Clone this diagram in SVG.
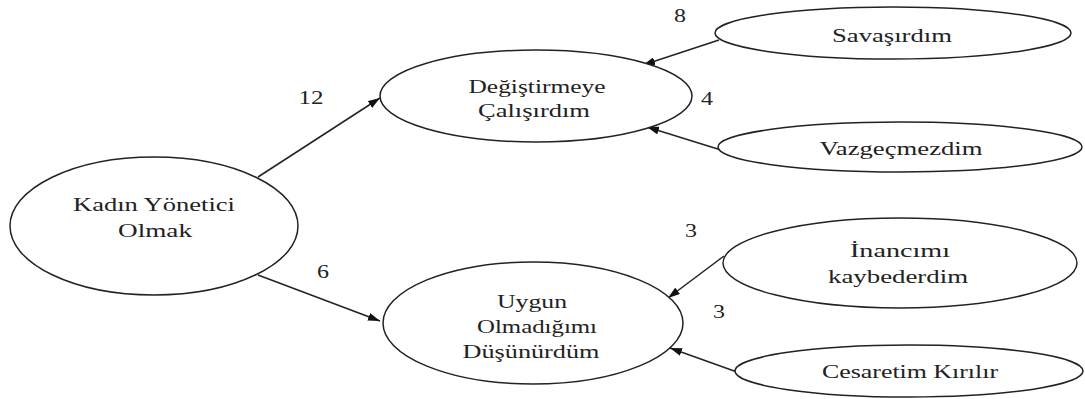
<svg xmlns="http://www.w3.org/2000/svg" width="1085" height="399" viewBox="0 0 1085 399">
<style>
.n{fill:#fff;stroke:#222;stroke-width:1.5}
.c{stroke:#222;stroke-width:1.5;fill:none;marker-end:url(#ah)}
</style>
<defs>
<marker id="ah" viewBox="0 0 12 8" refX="12" refY="4" markerWidth="12" markerHeight="8" markerUnits="userSpaceOnUse" orient="auto">
<path d="M0,0 L12,4 L0,8 Z" fill="#111"/>
</marker>
</defs>
<rect width="1085" height="399" fill="#fff"/>
<g id="connectors">
<line class="c" x1="258" y1="177" x2="380" y2="98"/>
<line class="c" x1="258" y1="275" x2="380" y2="321"/>
<line class="c" x1="719" y1="40" x2="643" y2="65"/>
<line class="c" x1="721" y1="150" x2="647" y2="127"/>
<line class="c" x1="724" y1="256" x2="668" y2="298"/>
<line class="c" x1="737" y1="372" x2="670" y2="348"/>
</g>
<g font-family="Liberation Serif, DejaVu Serif, serif" fill="#222" text-anchor="middle">
<g id="labels" font-size="18">
<text x="311" y="104" textLength="25" lengthAdjust="spacingAndGlyphs">12</text>
<text x="323" y="278" textLength="12" lengthAdjust="spacingAndGlyphs">6</text>
<text x="680" y="22" textLength="12" lengthAdjust="spacingAndGlyphs">8</text>
<text x="707" y="105" textLength="12" lengthAdjust="spacingAndGlyphs">4</text>
<text x="691" y="237" textLength="12" lengthAdjust="spacingAndGlyphs">3</text>
<text x="719" y="318" textLength="12" lengthAdjust="spacingAndGlyphs">3</text>
</g>
<g font-size="18">
<g id="kadin">
<ellipse class="n" cx="154" cy="226" rx="144" ry="69"/>
<text x="154" y="211" textLength="162" lengthAdjust="spacingAndGlyphs">Kadın Yönetici</text>
<text x="155" y="237" textLength="74" lengthAdjust="spacingAndGlyphs">Olmak</text>
</g>
<g id="degistirmeye">
<ellipse class="n" cx="536" cy="96" rx="156" ry="46"/>
<text x="537" y="93" textLength="137" lengthAdjust="spacingAndGlyphs">Değiştirmeye</text>
<text x="534" y="117" textLength="112" lengthAdjust="spacingAndGlyphs">Çalışırdım</text>
</g>
<g id="uygun">
<ellipse class="n" cx="533" cy="323" rx="150" ry="61"/>
<text x="532" y="308" textLength="70" lengthAdjust="spacingAndGlyphs">Uygun</text>
<text x="537" y="333" textLength="120" lengthAdjust="spacingAndGlyphs">Olmadığımı</text>
<text x="531" y="358" textLength="137" lengthAdjust="spacingAndGlyphs">Düşünürdüm</text>
</g>
<g id="savasirdim">
<ellipse class="n" cx="893" cy="33" rx="178" ry="26"/>
<text x="892" y="42" textLength="120" lengthAdjust="spacingAndGlyphs">Savaşırdım</text>
</g>
<g id="vazgecmezdim">
<ellipse class="n" cx="900" cy="147" rx="182" ry="25"/>
<text x="901" y="155" textLength="163" lengthAdjust="spacingAndGlyphs">Vazgeçmezdim</text>
</g>
<g id="inancimi">
<ellipse class="n" cx="900" cy="263" rx="177" ry="45"/>
<text x="900" y="257" textLength="100" lengthAdjust="spacingAndGlyphs">İnancımı</text>
<text x="898" y="283" textLength="140" lengthAdjust="spacingAndGlyphs">kaybederdim</text>
</g>
<g id="cesaretim">
<ellipse class="n" cx="909" cy="371" rx="174" ry="26"/>
<text x="910" y="378" textLength="176" lengthAdjust="spacingAndGlyphs">Cesaretim Kırılır</text>
</g>
</g>
</g>
</svg>
